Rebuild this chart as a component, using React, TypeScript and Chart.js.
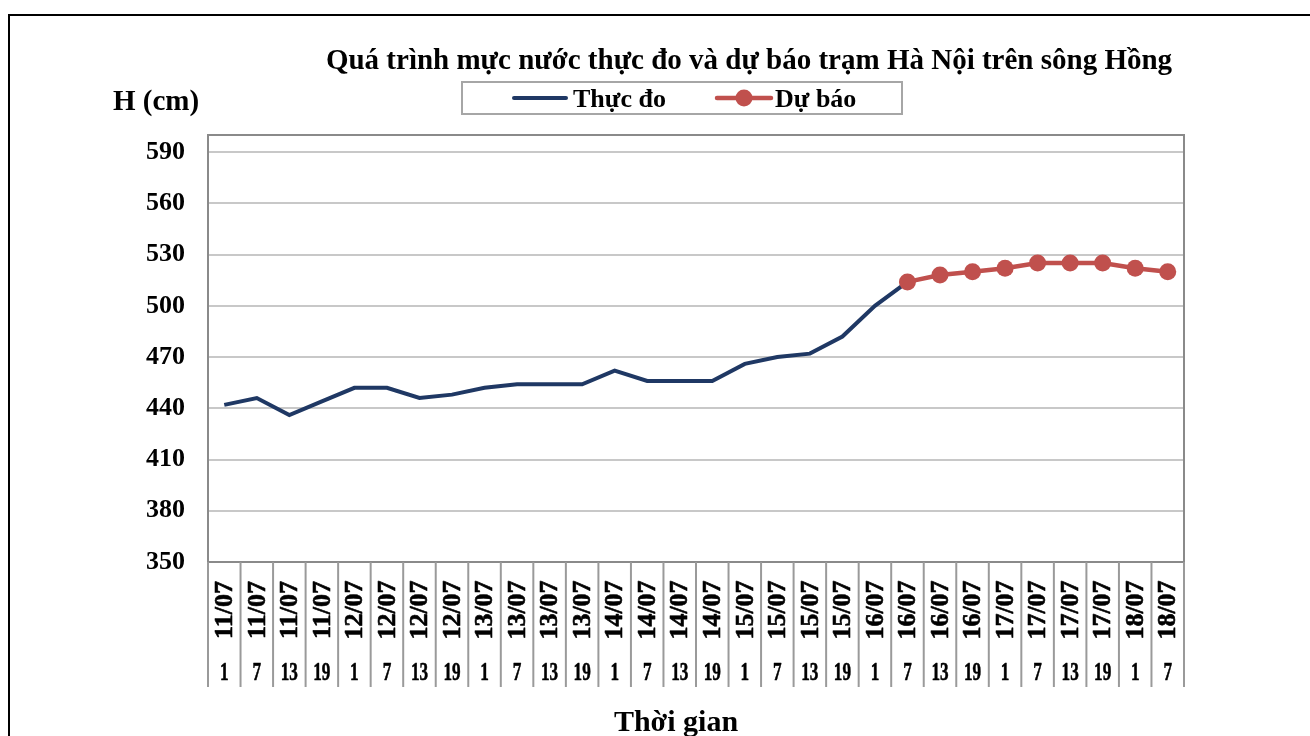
import React, { useEffect, useRef } from "react";
import { Chart, registerables } from "chart.js";

Chart.register(...registerables);

const titleText = "Quá trình mực nước thực đo và dự báo trạm Hà Nội trên sông Hồng";
const yAxisTitle = "H (cm)";
const xAxisTitle = "Thời gian";
const measuredName = "Thực đo";
const forecastName = "Dự báo";

const dates = [
  "11/07", "11/07", "11/07", "11/07",
  "12/07", "12/07", "12/07", "12/07",
  "13/07", "13/07", "13/07", "13/07",
  "14/07", "14/07", "14/07", "14/07",
  "15/07", "15/07", "15/07", "15/07",
  "16/07", "16/07", "16/07", "16/07",
  "17/07", "17/07", "17/07", "17/07",
  "18/07", "18/07",
];
const hours = [
  "1", "7", "13", "19", "1", "7", "13", "19", "1", "7", "13", "19",
  "1", "7", "13", "19", "1", "7", "13", "19", "1", "7", "13", "19",
  "1", "7", "13", "19", "1", "7",
];
const measured = [
  442, 446, 436, 444, 452, 452, 446, 448, 452, 454, 454, 454,
  462, 456, 456, 456, 466, 470, 472, 482, 500, 514,
  null, null, null, null, null, null, null, null,
];
const forecast = [
  null, null, null, null, null, null, null, null, null, null, null, null,
  null, null, null, null, null, null, null, null, null, 514,
  518, 520, 522, 525, 525, 525, 522, 520,
];
const yTicks = [350, 380, 410, 440, 470, 500, 530, 560, 590];
const yMin = 350;
const yMax = 600;

const FONT = "'Liberation Serif', 'Times New Roman', serif";
const NAVY = "#1F3864";
const RED = "#C0504D";

const decorPlugin = {
  id: "decor",
  beforeDatasetsDraw(chart: any) {
    const { ctx, chartArea } = chart;
    ctx.save();
    ctx.strokeStyle = "#8a8a8a";
    ctx.lineWidth = 2;
    ctx.strokeRect(chartArea.left, chartArea.top, chartArea.right - chartArea.left, chartArea.bottom - chartArea.top);
    ctx.restore();
  },
  afterDraw(chart: any) {
    const { ctx, chartArea } = chart;
    const xs = chart.scales.x;
    ctx.save();
    ctx.fillStyle = "#000";
    // Title
    ctx.font = `bold 29px ${FONT}`;
    ctx.textAlign = "center";
    ctx.textBaseline = "alphabetic";
    ctx.fillText(titleText, 749, 69);
    // Y axis title
    ctx.textAlign = "left";
    ctx.fillText(yAxisTitle, 113, 110);
    // Legend box
    ctx.strokeStyle = "#a6a6a6";
    ctx.lineWidth = 2;
    ctx.strokeRect(462, 82, 440, 32);
    ctx.lineCap = "round";
    ctx.strokeStyle = NAVY;
    ctx.lineWidth = 4;
    ctx.beginPath();
    ctx.moveTo(514, 98);
    ctx.lineTo(566, 98);
    ctx.stroke();
    ctx.strokeStyle = RED;
    ctx.lineWidth = 4.5;
    ctx.beginPath();
    ctx.moveTo(717, 98);
    ctx.lineTo(771, 98);
    ctx.stroke();
    ctx.fillStyle = RED;
    ctx.beginPath();
    ctx.arc(744, 98, 8.5, 0, Math.PI * 2);
    ctx.fill();
    ctx.fillStyle = "#000";
    ctx.font = `bold 26px ${FONT}`;
    ctx.fillText(measuredName, 573, 107);
    ctx.fillText(forecastName, 775, 107);

    // Category separators and labels
    const n = dates.length;
    const w = (chartArea.right - chartArea.left) / n;
    ctx.strokeStyle = "#9a9a9a";
    ctx.lineWidth = 2;
    ctx.lineCap = "butt";
    for (let i = 0; i <= n; i++) {
      const x = chartArea.left + i * w;
      ctx.beginPath();
      ctx.moveTo(x, chartArea.bottom);
      ctx.lineTo(x, 687);
      ctx.stroke();
    }
    ctx.strokeStyle = "#000";
    ctx.lineWidth = 0.6;
    ctx.lineJoin = "round";
    for (let i = 0; i < n; i++) {
      const cx = xs.getPixelForValue(i);
      ctx.save();
      ctx.translate(cx, 610);
      ctx.rotate(-Math.PI / 2);
      ctx.font = `bold 26px ${FONT}`;
      ctx.textAlign = "center";
      ctx.textBaseline = "middle";
      ctx.fillText(dates[i], 0, 1);
      ctx.strokeText(dates[i], 0, 1);
      ctx.restore();
      ctx.save();
      ctx.translate(cx, 680);
      ctx.scale(0.66, 1);
      ctx.font = `bold 26px ${FONT}`;
      ctx.textAlign = "center";
      ctx.textBaseline = "alphabetic";
      ctx.fillText(hours[i], 0, 0);
      ctx.strokeText(hours[i], 0, 0);
      ctx.restore();
    }
    // X axis title
    ctx.font = `bold 30px ${FONT}`;
    ctx.textAlign = "center";
    ctx.fillText(xAxisTitle, 676, 731);
    ctx.restore();
  },
};

export default function App() {
  const ref = useRef<HTMLCanvasElement>(null);
  useEffect(() => {
    if (!ref.current) return;
    const chart = new Chart(ref.current, {
      type: "line",
      data: {
        labels: dates.map((d, i) => d + " " + hours[i]),
        datasets: [
          {
            label: forecastName,
            data: forecast,
            borderColor: RED,
            backgroundColor: RED,
            borderWidth: 4.5,
            pointRadius: 8.5,
            pointBorderWidth: 0,
            pointBackgroundColor: RED,
            tension: 0,
            order: 0,
          },
          {
            label: measuredName,
            data: measured,
            borderColor: NAVY,
            backgroundColor: NAVY,
            borderWidth: 4,
            pointRadius: 0,
            tension: 0,
            order: 1,
          },
        ],
      },
      options: {
        responsive: false,
        animation: false,
        devicePixelRatio: 1,
        layout: { padding: { left: 0, top: 135, right: 126, bottom: 0 } },
        plugins: {
          legend: { display: false },
          title: { display: false },
          tooltip: { enabled: false },
        },
        scales: {
          x: {
            type: "category",
            offset: true,
            grid: { display: false },
            border: { display: false },
            ticks: { display: false },
            afterFit: (s: any) => {
              s.height = 174;
            },
          },
          y: {
            min: yMin,
            max: yMax,
            grid: { color: "#c8c8c8", lineWidth: 2, drawTicks: false },
            border: { display: false },
            ticks: {
              padding: 23,
              color: "#000",
              font: { family: FONT, size: 26, weight: "bold" },
            },
            afterBuildTicks: (s: any) => {
              s.ticks = yTicks.map((v) => ({ value: v }));
            },
            afterFit: (s: any) => {
              s.width = 208;
            },
          },
        },
      },
      plugins: [decorPlugin],
    });
    return () => chart.destroy();
  }, []);
  return (
    <div style={{ position: "fixed", left: 0, top: 0, width: 1310, height: 736, overflow: "hidden", background: "#fff" }}>
      <div
        style={{
          position: "absolute",
          left: 8,
          top: 14,
          width: 1330,
          height: 760,
          border: "2px solid #000",
          boxSizing: "border-box",
        }}
      />
      <canvas ref={ref} width={1310} height={736} style={{ position: "absolute", left: 0, top: 0, display: "block" }} />
    </div>
  );
}
